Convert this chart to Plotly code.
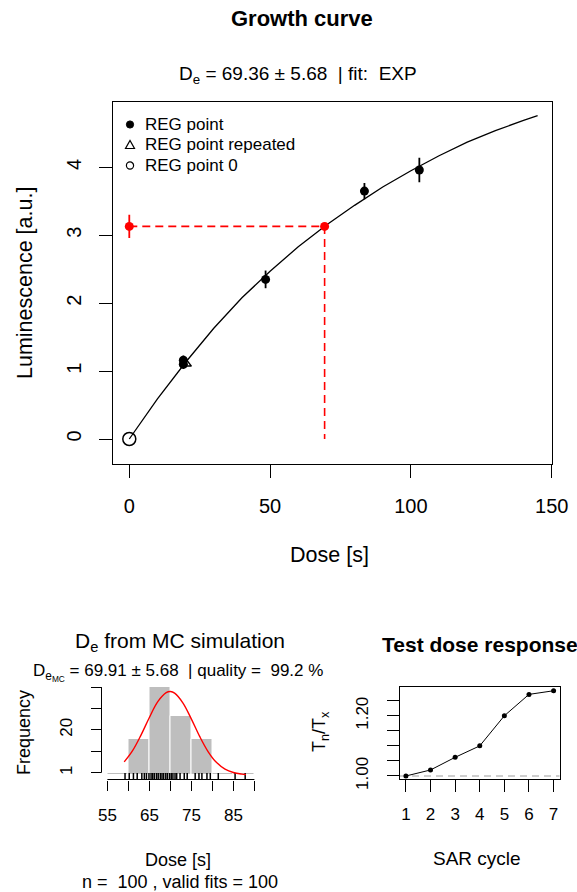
import numpy as np
import plotly.graph_objects as go

W, H = 577, 892
FONT = "Liberation Sans"

# ---------------- Growth curve data ----------------
reg_dose = [19.2, 19.2, 48.4, 83.5, 103.0]
reg_lum = [1.16, 1.10, 2.35, 3.65, 3.96]
reg_err = [0.07, 0.07, 0.13, 0.12, 0.18]
rep_dose = [20.0]
rep_lum = [1.11]
zero_dose = [0.0]
zero_lum = [0.0]
natural_lum = 3.13
natural_err = 0.17
de_value = 69.36
de_error = 5.68
fit_dose = [0, 5, 10, 20, 30, 40, 50, 60, 70, 80, 90, 100, 110, 120, 130, 140, 145]
fit_lum = [0, 0.30, 0.59, 1.13, 1.63, 2.08, 2.47, 2.83, 3.15, 3.44, 3.71, 3.95, 4.17, 4.37, 4.54, 4.69, 4.76]
gc_xticks = [0, 50, 100, 150]
gc_yticks = [0, 1, 2, 3, 4]
legend_labels = ["REG point", "REG point repeated", "REG point 0"]

# ---------------- MC histogram data ----------------
hist_breaks = [55, 60, 65, 70, 75, 80, 85, 90]
hist_counts = [1, 16, 39, 26, 16, 1, 1]
hist_xtick_labels = ["55", "", "65", "", "75", "", "85", ""]
mc_rug = [59.2, 60.2, 61.2, 62.1, 63.2, 63.8, 64.3, 64.9, 65.4, 65.8, 66.2, 66.7, 67.1,
          67.6, 68.0, 68.4, 68.9, 69.3, 69.8, 70.2, 70.6, 71.1, 71.5, 72.3, 73.3, 74.0,
          75.9, 76.8, 77.5, 78.7, 79.5, 81.4, 85.4, 87.8]
norm_x = [59, 61, 63, 65, 67, 69, 70, 71, 73, 75, 77, 79, 81, 83, 85, 87, 88]
norm_y = [5.8, 10.8, 17.7, 25.5, 32.5, 36.5, 37.0, 36.3, 31.9, 24.8, 17.0, 10.3, 5.5, 2.6, 1.1, 0.4, 0.2]
de_mc = 69.91
de_mc_err = 5.68
quality = 99.2
n_iter = 100
n_valid = 100

# ---------------- Test dose response ----------------
sar_cycle = [1, 2, 3, 4, 5, 6, 7]
tn_tx = [1.0, 1.02, 1.062, 1.10, 1.20, 1.271, 1.283]
td_yticks = [1.00, 1.05, 1.10, 1.15, 1.20, 1.25]
td_ytick_labels = ["1.00", "", "", "", "1.20", ""]


def px(x):
    return x / W


def py(y):
    return 1 - y / H


fig = go.Figure()

# ---- growth curve ----
fig.add_trace(go.Scatter(x=fit_dose, y=fit_lum, mode="lines", line=dict(color="black", width=1.3),
                         showlegend=False, xaxis="x", yaxis="y", hoverinfo="skip"))
fig.add_trace(go.Scatter(x=[0, de_value, de_value], y=[natural_lum, natural_lum, 0], mode="lines",
                         line=dict(color="#FF0000", width=1.6, dash="8px,5px"),
                         showlegend=False, xaxis="x", yaxis="y"))
fig.add_trace(go.Scatter(x=reg_dose, y=reg_lum, mode="markers", name=legend_labels[0],
                         marker=dict(symbol="circle", size=9, color="black"),
                         error_y=dict(type="data", array=reg_err, color="black", thickness=1.8, width=0),
                         showlegend=False, xaxis="x", yaxis="y"))
fig.add_trace(go.Scatter(x=rep_dose, y=rep_lum, mode="markers", name=legend_labels[1],
                         marker=dict(symbol="triangle-up-open", size=10, color="black", line=dict(width=1.5)),
                         showlegend=False, xaxis="x", yaxis="y"))
fig.add_trace(go.Scatter(x=zero_dose, y=zero_lum, mode="markers", name=legend_labels[2],
                         marker=dict(symbol="circle-open", size=13, color="black", line=dict(width=1.5)),
                         showlegend=False, xaxis="x", yaxis="y"))
fig.add_trace(go.Scatter(x=[0], y=[natural_lum], mode="markers",
                         marker=dict(symbol="circle", size=9, color="#FF0000"),
                         error_y=dict(type="data", array=[natural_err], color="#FF0000", thickness=1.8, width=0),
                         showlegend=False, xaxis="x", yaxis="y"))
fig.add_trace(go.Scatter(x=[de_value], y=[natural_lum], mode="markers",
                         marker=dict(symbol="circle", size=9, color="#FF0000"),
                         showlegend=False, xaxis="x", yaxis="y"))

# ---- MC histogram ----
centers = [(a + b) / 2 for a, b in zip(hist_breaks[:-1], hist_breaks[1:])]
widths = [b - a for a, b in zip(hist_breaks[:-1], hist_breaks[1:])]
fig.add_trace(go.Bar(x=centers, y=hist_counts, width=widths,
                     marker=dict(color="#BEBEBE", line=dict(color="white", width=1)),
                     showlegend=False, xaxis="x2", yaxis="y2"))
fig.add_trace(go.Scatter(x=mc_rug, y=[-0.7] * len(mc_rug), mode="markers",
                         marker=dict(symbol="line-ns", size=5, line=dict(color="black", width=1.5)),
                         showlegend=False, xaxis="x2", yaxis="y2"))
fig.add_trace(go.Scatter(x=norm_x, y=norm_y, mode="lines", line=dict(color="#FF0000", width=1.4, shape="spline"),
                         showlegend=False, xaxis="x2", yaxis="y2"))

# ---- test dose response ----
fig.add_trace(go.Scatter(x=sar_cycle, y=tn_tx, mode="lines+markers", line=dict(color="black", width=1),
                         marker=dict(size=5, color="black"), showlegend=False, xaxis="x3", yaxis="y3"))

tickfont_main = dict(family=FONT, size=20, color="black")
tickfont_small = dict(family=FONT, size=17, color="black")

hist_yticks = list(np.linspace(min(hist_counts), max(hist_counts), 5))
hist_ytick_labels = ["1", "", "20", "", ""]

common = dict(ticks="outside", tickwidth=1, tickcolor="black", showgrid=False, zeroline=False, automargin=False)

fig.update_layout(
    width=W, height=H, margin=dict(l=0, r=0, t=0, b=0, autoexpand=False),
    paper_bgcolor="white", plot_bgcolor="white",
    font=dict(family=FONT, color="black"),
    showlegend=False,
    xaxis=dict(domain=[px(112.7), px(551.7)], range=[-5.89, 150], tickvals=gc_xticks, ticklen=13,
               showline=True, mirror=True, linecolor="black", linewidth=1, tickfont=tickfont_main,
               ticklabelstandoff=11, anchor="y", **common),
    yaxis=dict(domain=[py(464), py(102.3)], range=[-0.368, 4.957], tickvals=gc_yticks, tickangle=-90, ticklen=13,
               showline=True, mirror=True, linecolor="black", linewidth=1, tickfont=tickfont_main,
               ticklabelstandoff=10, anchor="x", **common),
    xaxis2=dict(domain=[px(101.5), px(260.3)], range=[53.6, 91.4], tickvals=hist_breaks, ticktext=hist_xtick_labels,
                ticklen=10, showline=False, tickfont=tickfont_small, ticklabelstandoff=10, anchor="y2", **common),
    yaxis2=dict(domain=[py(779.5), py(683)], range=[-2.0, 40.8], tickvals=hist_yticks, ticktext=hist_ytick_labels,
                tickangle=-90, ticklen=10, showline=False, tickfont=tickfont_small, ticklabelstandoff=12,
                anchor="x2", **common),
    xaxis3=dict(domain=[px(400), px(559.5)], range=[0.76, 7.24], tickvals=sar_cycle, ticklen=12,
                showline=True, mirror=True, linecolor="black", linewidth=1, tickfont=tickfont_small,
                ticklabelstandoff=7, anchor="y3", **common),
    yaxis3=dict(domain=[py(779.3), py(687.3)], range=[0.989, 1.2945], tickvals=td_yticks, ticktext=td_ytick_labels,
                tickangle=-90, ticklen=12, showline=True, mirror=True, linecolor="black", linewidth=1,
                tickfont=tickfont_small, ticklabelstandoff=12, anchor="x3", **common),
    bargap=0,
)

shapes = [
    # histogram axis lines (R style, from first to last tick)
    dict(type="line", xref="x2", yref="paper", x0=hist_breaks[0], x1=hist_breaks[-1], y0=py(779.5), y1=py(779.5),
         line=dict(color="black", width=1)),
    dict(type="line", xref="paper", yref="y2", x0=px(101.5), x1=px(101.5), y0=hist_yticks[0], y1=hist_yticks[-1],
         line=dict(color="black", width=1)),
    # reference line at 1 in test dose panel
    dict(type="line", xref="x3 domain", yref="y3", x0=0, x1=1, y0=1, y1=1,
         line=dict(color="#BEBEBE", width=1.3, dash="7px,5px"), layer="below"),
]

# legend keys (drawn in pixel layout space)
lx, ly, lgap = 130, 124.5, 20.5
r = 3.6
shapes.append(dict(type="circle", xref="paper", yref="paper", x0=px(lx - r), x1=px(lx + r),
                   y0=py(ly + r), y1=py(ly - r), fillcolor="black", line=dict(color="black", width=1)))
ty = ly + lgap
shapes.append(dict(type="path", xref="paper", yref="paper",
                   path=f"M {px(lx - 4.5)} {py(ty + 3.5)} L {px(lx + 4.5)} {py(ty + 3.5)} L {px(lx)} {py(ty - 4.5)} Z",
                   line=dict(color="black", width=1.2)))
cy = ly + 2 * lgap
shapes.append(dict(type="circle", xref="paper", yref="paper", x0=px(lx - r), x1=px(lx + r),
                   y0=py(cy + r), y1=py(cy - r), line=dict(color="black", width=1.2)))
fig.update_layout(shapes=shapes)

NB = "\u00a0"
ann = [
    dict(text="<b>Growth curve</b>", x=px(301.5), y=py(18.5), size=22),
    dict(text=f"D<sub>e</sub> = {de_value:.2f} ± {de_error:.2f} {NB}| fit: {NB}EXP", x=px(297.5), y=py(74.5), size=19),
    dict(text="Luminescence [a.u.]", x=px(25), y=py(283), size=21.5, angle=-90),
    dict(text="Dose [s]", x=px(330), y=py(555), size=21.5),
    dict(text="D<sub>e</sub> from MC simulation", x=px(179.5), y=py(642), size=21),
    dict(text=f"D<sub>e<sub>MC</sub></sub> = {de_mc:.2f} ± {de_mc_err:.2f} {NB}| quality = {NB}{quality} %",
         x=px(178), y=py(672), size=17),
    dict(text="Frequency", x=px(24), y=py(733), size=18, angle=-90),
    dict(text="Dose [s]", x=px(178), y=py(860), size=18),
    dict(text=f"n = {NB}{n_iter} , valid fits = {n_valid}", x=px(180), y=py(882), size=18),
    dict(text="<b>Test dose response</b>", x=px(480), y=py(644.5), size=21),
    dict(text="T<sub>n</sub>/T<sub>x</sub>", x=px(320), y=py(732), size=18, angle=-90),
    dict(text="SAR cycle", x=px(477), y=py(858), size=19),
]
for a in ann:
    fig.add_annotation(text=a["text"], x=a["x"], y=a["y"], xref="paper", yref="paper",
                       xanchor="center", yanchor="middle", showarrow=False, textangle=a.get("angle", 0),
                       font=dict(family=FONT, size=a["size"], color="black"))
for i, lab in enumerate(legend_labels):
    fig.add_annotation(text=lab, x=px(143), y=py(ly + i * lgap), xref="paper", yref="paper",
                       xanchor="left", yanchor="middle", showarrow=False,
                       font=dict(family=FONT, size=17, color="black"))

fig.write_html("out.html")
